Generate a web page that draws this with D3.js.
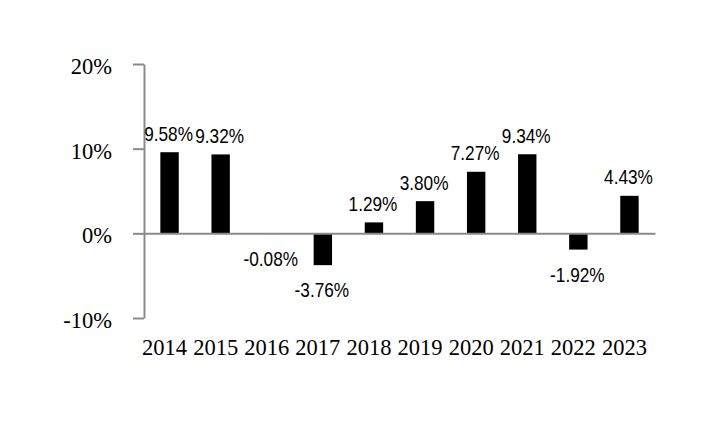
<!DOCTYPE html>
<html>
<head>
<meta charset="utf-8">
<script src="https://cdn.jsdelivr.net/npm/d3@7"></script>
<style>
  html, body { margin: 0; padding: 0; background: #ffffff; }
  svg { display: block; }
</style>
</head>
<body>
<svg id="chart" width="720" height="424"></svg>
<script>
const years = ["2014","2015","2016","2017","2018","2019","2020","2021","2022","2023"];
const returns = [9.58, 9.32, -0.08, -3.76, 1.29, 3.80, 7.27, 9.34, -1.92, 4.43];
const yTicks = [-10, 0, 10, 20];

const svg = d3.select("#chart");
const axisColor = "#8a8a8a";

const x = d3.scaleBand().domain(years).range([144, 655]).paddingInner(0.64).paddingOuter(0.32);
const y = d3.scaleLinear().domain([-10, 20]).range([318, 64]);

// Y axis
const yAxis = svg.append("g")
  .attr("transform", "translate(144,0)")
  .call(d3.axisLeft(y).tickValues(yTicks).tickFormat(d => d + "%").tickSize(11).tickSizeOuter(0).tickPadding(21));
yAxis.select(".domain").attr("stroke", axisColor).attr("stroke-width", 2);
yAxis.selectAll(".tick line").attr("stroke", axisColor).attr("stroke-width", 2);
yAxis.selectAll(".tick text")
  .attr("fill", "#000")
  .attr("font-family", "'Liberation Serif','Times New Roman',serif")
  .attr("font-size", 22.5)
  .attr("dy", "0.42em");

// Bars
svg.append("g").selectAll("rect")
  .data(returns)
  .join("rect")
  .attr("x", (d, i) => x(years[i]))
  .attr("width", x.bandwidth())
  .attr("y", d => y(Math.max(0, d)))
  .attr("height", d => Math.abs(y(d) - y(0)))
  .attr("fill", "#000");

// Zero line (x axis)
const xAxis = svg.append("g")
  .attr("transform", `translate(0,${y(0)})`)
  .call(d3.axisBottom(x).tickSize(0).tickSizeOuter(0).tickFormat(""));
xAxis.select(".domain").attr("stroke", axisColor).attr("stroke-width", 2);

// Year labels
const xLabels = svg.append("g")
  .attr("transform", "translate(-5,318)")
  .call(d3.axisBottom(x).tickSize(0).tickPadding(21));
xLabels.select(".domain").remove();
xLabels.selectAll(".tick text")
  .attr("fill", "#000")
  .attr("font-family", "'Liberation Serif','Times New Roman',serif")
  .attr("font-size", 22.5);

// Data labels
svg.append("g").selectAll("text")
  .data(returns)
  .join("text")
  .attr("transform", (d, i) => {
    const cx = x(years[i]) + x.bandwidth() / 2 - 1;
    const ty = d >= 0 ? y(d) - 11.5 : y(d) + 32;
    return `translate(${cx},${ty}) scale(0.82,1)`;
  })
  .attr("text-anchor", "middle")
  .attr("font-family", "'Liberation Sans',Arial,sans-serif")
  .attr("font-size", 21)
  .attr("fill", "#000")
  .text(d => d.toFixed(2) + "%");
</script>
</body>
</html>
